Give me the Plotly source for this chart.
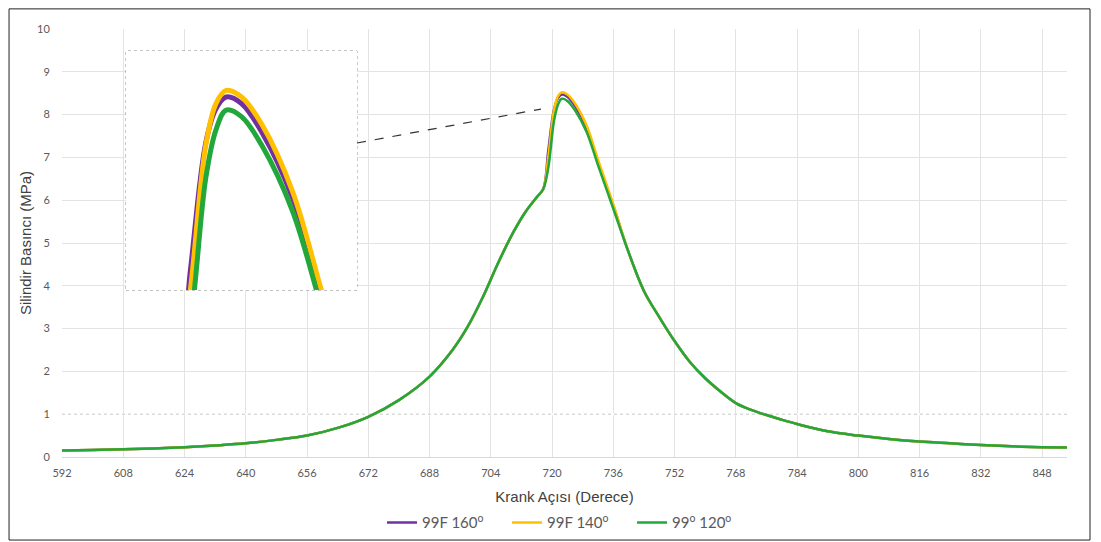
import plotly.graph_objects as go

# crank angle (deg) shared by all three series
ANGLE = [
    592, 600, 608, 616, 624, 632, 640, 648, 656, 664,
    672, 680, 688, 694, 698, 702, 706, 710, 713, 716,
    717.7, 719, 720.5, 721.5, 722.5, 724, 726, 729, 732, 736,
    740, 744, 748, 752, 756, 760, 764, 768, 772, 776,
    780, 784, 792, 800, 808, 816, 824, 832, 840, 848, 854.5,
]

# cylinder pressure (MPa)
COMPRESSION = [
    0.15, 0.165, 0.18, 0.20, 0.23, 0.27, 0.32, 0.40, 0.50, 0.68,
    0.94, 1.33, 1.88, 2.5, 3.05, 3.75, 4.55, 5.27, 5.72, 6.07, 6.26,
]
EXPANSION = [
    4.78, 3.88, 3.27, 2.71, 2.22, 1.84, 1.53, 1.26, 1.1, 0.98,
    0.87, 0.77, 0.6, 0.5, 0.42, 0.36, 0.32, 0.28, 0.25, 0.23, 0.22,
]
PEAK_160 = [7.15, 8.12, 8.38, 8.47, 8.42, 8.2, 7.7, 6.9, 5.87]
PEAK_140 = [7.0, 8.1, 8.42, 8.52, 8.47, 8.26, 7.75, 6.95, 5.9]
PEAK_120 = [6.75, 7.85, 8.22, 8.37, 8.32, 8.1, 7.6, 6.82, 5.8]

SERIES = [
    ("99F 160<sup>o</sup>", COMPRESSION + PEAK_160 + EXPANSION, "#7030A0"),
    ("99F 140<sup>o</sup>", COMPRESSION + PEAK_140 + EXPANSION, "#FFC000"),
    ("99<sup>o</sup> 120<sup>o</sup>", COMPRESSION + PEAK_120 + EXPANSION, "#22A83A"),
]

X_TICKS = list(range(592, 849, 16))
Y_TICKS = list(range(0, 11))
X_RANGE = [592, 854.5]
Y_RANGE = [0, 10]

# inset placement (fraction of the main plot area) and its zoom window
INSET_X = [0.0637, 0.2935]
INSET_Y = [0.390, 0.9486]
INSET_ANGLE = [712.7, 735.3]
INSET_PRESSURE = [7.0, 8.82]

TICK_FONT = dict(family="Lato, Open Sans, sans-serif", size=11, color="#595959")
TITLE_FONT = dict(family="Liberation Sans, Arial, sans-serif", size=15, color="#404040")
HIDDEN_TICK = "rgba(0,0,0,0)"


def to_x(frac):
    return X_RANGE[0] + frac * (X_RANGE[1] - X_RANGE[0])


def to_y(frac):
    return Y_RANGE[0] + frac * (Y_RANGE[1] - Y_RANGE[0])


fig = go.Figure()

for name, values, color in SERIES:
    fig.add_trace(go.Scatter(
        x=ANGLE, y=values, name=name, mode="lines",
        line=dict(color=color, width=2.5, shape="spline", smoothing=1.0),
    ))

# zoomed inset of the peak
for name, values, color in SERIES:
    fig.add_trace(go.Scatter(
        x=ANGLE, y=values, name=name, mode="lines", showlegend=False,
        xaxis="x2", yaxis="y2", hoverinfo="skip",
        line=dict(color=color, width=5, shape="spline", smoothing=1.0),
    ))

fig.update_layout(
    width=1093, height=534,
    margin=dict(l=54, r=34, t=21, b=85, autoexpand=False),
    paper_bgcolor="white", plot_bgcolor="white",
    showlegend=True,
    legend=dict(
        orientation="h", x=0.505, xanchor="center",
        yref="container", y=0.036, yanchor="middle",
        font=dict(family="Lato, Open Sans, sans-serif", size=15, color="#595959"),
        tracegroupgap=0, entrywidth=80,
    ),
    xaxis=dict(
        range=X_RANGE, tickvals=X_TICKS, tickfont=TICK_FONT,
        ticks="outside", ticklen=6, tickcolor=HIDDEN_TICK,
        showgrid=True, gridcolor="#e3e3e3", gridwidth=1,
        showline=True, linecolor="#d9d9d9", linewidth=1, zeroline=False,
        title=dict(text="Krank Açısı (Derece)", font=TITLE_FONT, standoff=13),
    ),
    yaxis=dict(
        range=Y_RANGE, tickvals=Y_TICKS, tickfont=TICK_FONT,
        ticks="outside", ticklen=9, tickcolor=HIDDEN_TICK,
        showgrid=True, gridcolor="#e3e3e3", gridwidth=1,
        showline=False, zeroline=False,
        title=dict(text="Silindir Basıncı (MPa)", font=TITLE_FONT, standoff=1),
    ),
    xaxis2=dict(
        domain=INSET_X, anchor="y2", range=INSET_ANGLE,
        visible=False, showgrid=False, zeroline=False,
    ),
    yaxis2=dict(
        domain=INSET_Y, anchor="x2", range=INSET_PRESSURE,
        visible=False, showgrid=False, zeroline=False,
    ),
    shapes=[
        # dotted grid line at 1 MPa
        dict(type="line", xref="x", yref="y", x0=X_RANGE[0], x1=X_RANGE[1], y0=1, y1=1,
             layer="between", line=dict(color="white", width=2)),
        dict(type="line", xref="x", yref="y", x0=X_RANGE[0], x1=X_RANGE[1], y0=1, y1=1,
             layer="between", line=dict(color="#c8c8c8", width=1, dash="dot")),
        # inset frame
        dict(type="rect", xref="x", yref="y",
             x0=to_x(INSET_X[0]), x1=to_x(INSET_X[1]),
             y0=to_y(INSET_Y[0]), y1=to_y(INSET_Y[1]), layer="between",
             fillcolor="white", line=dict(color="#8c8c8c", width=1, dash="dot")),
        # connector to the peak
        dict(type="line", xref="paper", yref="paper",
             x0=INSET_X[1], y0=0.7336, x1=0.4766, y1=0.813,
             line=dict(color="#333333", width=1.2, dash="dash")),
        # outer chart border
        dict(type="rect", xref="paper", yref="paper",
             x0=-0.0527, x1=1.0229, y0=-0.194, y1=1.047,
             line=dict(color="#222222", width=1)),
    ],
)

fig.write_html("out.html")
